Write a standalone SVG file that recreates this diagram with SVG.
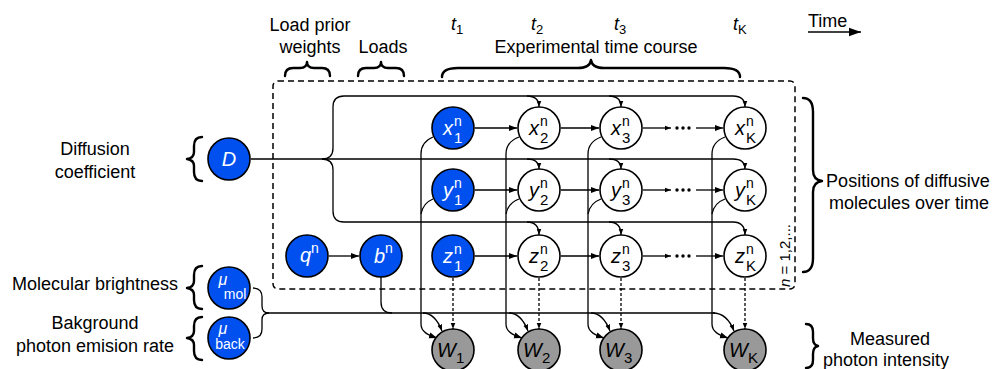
<svg xmlns="http://www.w3.org/2000/svg" width="993" height="369" viewBox="0 0 993 369">
  <defs>
    <marker id="ah" viewBox="0 0 10 10" refX="10" refY="5" markerWidth="8" markerHeight="8" orient="auto" markerUnits="userSpaceOnUse">
      <path d="M0,1.2 L10,5 L0,8.8 z" fill="#000"/>
    </marker>
    <marker id="ahs" viewBox="0 0 10 10" refX="10" refY="5" markerWidth="6.5" markerHeight="6.5" orient="auto" markerUnits="userSpaceOnUse">
      <path d="M0,1.2 L10,5 L0,8.8 z" fill="#000"/>
    </marker>
    <marker id="ahl" viewBox="0 0 10 10" refX="10" refY="5" markerWidth="12" markerHeight="12" orient="auto" markerUnits="userSpaceOnUse">
      <path d="M0,1.5 L10,5 L0,8.5 z" fill="#000"/>
    </marker>
    <style>
      text { font-family: "Liberation Sans", Arial, sans-serif; fill: #000; }
      .lbl { font-size: 18px; }
      .it { font-style: italic; }
      .nb circle { fill: #0050EF; stroke: #000; stroke-width: 1.6; }
      .nw circle { fill: #fff; stroke: #000; stroke-width: 1.6; }
      .ng circle { fill: #999; stroke: #000; stroke-width: 1.6; }
      .nb text { fill: #fff; }
      .main { font-size: 20px; font-style: italic; }
      .sup { font-size: 14px; }
      .sub { font-size: 15px; }
      .mu { font-size: 16px; font-style: italic; }
      .musub { font-size: 14px; }
      .edge { fill: none; stroke: #000; stroke-width: 1.3; }
      .arr { marker-end: url(#ah); }
      .arrs { marker-end: url(#ahs); }
      .dash { stroke-dasharray: 3 2; }
      .brace { fill: none; stroke: #000; stroke-width: 2.4; stroke-linecap: round; stroke-linejoin: round; }
      .plate { fill: none; stroke: #000; stroke-width: 1.5; stroke-dasharray: 6 4; }
    </style>
  </defs>

  <!-- plate over molecules n = 1,2,... -->
  <rect class="plate" x="273" y="81" width="522" height="208" rx="5"/>
  <text x="790" y="287" font-size="15" transform="rotate(-90 790 287)"><tspan class="it">n</tspan> = 1,2,...</text>

  <!-- headings and braces -->
  <g id="labels">
    <text class="lbl" x="310" y="31" text-anchor="middle">Load prior</text>
    <text class="lbl" x="310" y="53" text-anchor="middle">weights</text>
    <text class="lbl" x="383" y="53" text-anchor="middle">Loads</text>
    <text class="lbl" x="596" y="53" text-anchor="middle">Experimental time course</text>
    <text x="451" y="30" font-size="18" class="it">t<tspan font-size="13" font-style="normal" dy="4">1</tspan></text>
    <text x="531" y="30" font-size="18" class="it">t<tspan font-size="13" font-style="normal" dy="4">2</tspan></text>
    <text x="614" y="30" font-size="18" class="it">t<tspan font-size="13" font-style="normal" dy="4">3</tspan></text>
    <text x="733" y="30" font-size="18" class="it">t<tspan font-size="13" font-style="normal" dy="4">K</tspan></text>
    <text class="lbl" x="808" y="27">Time</text>
    <path d="M808,32 H861" fill="none" stroke="#000" stroke-width="1.5" marker-end="url(#ahl)"/>

    <text class="lbl" x="95" y="155" text-anchor="middle">Diffusion</text>
    <text class="lbl" x="95" y="178" text-anchor="middle">coefficient</text>
    <text class="lbl" x="95" y="290" text-anchor="middle">Molecular brightness</text>
    <text class="lbl" x="95" y="329" text-anchor="middle">Bakground</text>
    <text class="lbl" x="95" y="352" text-anchor="middle">photon emision rate</text>
    <text class="lbl" x="908" y="187" text-anchor="middle">Positions of diffusive</text>
    <text class="lbl" x="909" y="209" text-anchor="middle">molecules over time</text>
    <text class="lbl" x="890" y="345" text-anchor="middle">Measured</text>
    <text class="lbl" x="886" y="366" text-anchor="middle">photon intensity</text>

    <!-- braces -->
    <path class="brace" d="M285,76 Q285,68 293,68 H300 Q307,68 307,62 Q307,68 314,68 H322 Q330,68 330,76"/>
    <path class="brace" d="M358,76 Q358,68 366,68 H374 Q381,68 381,62 Q381,68 388,68 H396 Q404,68 404,76"/>
    <path class="brace" d="M442,77 Q442,68 458,68 H578 Q590,68 591,60 Q592,68 604,68 H724 Q740,68 740,77" stroke-width="3"/>
    <path class="brace" d="M202,137 Q194,137 194,146 V152 Q194,158 187,159 Q194,160 194,166 V172 Q194,181 202,181" stroke-width="2.8"/>
    <path class="brace" d="M202,266 Q194,266 194,275 V281 Q194,287 187,288 Q194,289 194,295 V300 Q194,309 202,309" stroke-width="2.8"/>
    <path class="brace" d="M202,317 Q194,317 194,326 V331 Q194,337 187,338 Q194,339 194,345 V351 Q194,360 202,360" stroke-width="2.8"/>
    <path class="brace" d="M803,98 Q813,98 813,112 V170 Q813,180 822,181 Q813,182 813,192 V258 Q813,272 803,272" stroke-width="3.2"/>
    <path class="brace" d="M806,324 Q813,324 813,332 V338 Q813,345 818,346 Q813,347 813,354 V360 Q813,368 806,368" stroke-width="2.8"/>
  </g>

  <!-- connectors -->
  <g id="connectors">
    <!-- diffusion coefficient fan-out -->
    <path class="edge arrs" d="M251,159 H733 Q745,159 745,169"/>
    <path class="edge arrs" d="M322,159 Q333,159 333,148 V107 Q333,96 344,96 H733 Q745,96 745,107"/>
    <path class="edge arrs" d="M322,159 Q333,159 333,170 V211 Q333,222 344,222 H733 Q745,222 745,235"/>
    <path class="edge arrs" d="M527,96 Q539,96 539,107"/>
    <path class="edge arrs" d="M609,96 Q621,96 621,107"/>
    <path class="edge arrs" d="M527,159 Q539,159 539,169"/>
    <path class="edge arrs" d="M609,159 Q621,159 621,169"/>
    <path class="edge arrs" d="M527,222 Q539,222 539,235"/>
    <path class="edge arrs" d="M609,222 Q621,222 621,235"/>

    <!-- transitions along time -->
    <path class="edge arr" d="M475,128 H517"/>
    <path class="edge arr" d="M561,128 H599"/>
    <path class="edge arrs" d="M643,128 H671"/>
    <path class="edge arr" d="M696,128 H723"/>
    <path class="edge arr" d="M475,190 H517"/>
    <path class="edge arr" d="M561,190 H599"/>
    <path class="edge arrs" d="M643,190 H671"/>
    <path class="edge arr" d="M696,190 H723"/>
    <path class="edge arr" d="M475,256 H517"/>
    <path class="edge arr" d="M561,256 H599"/>
    <path class="edge arrs" d="M643,256 H671"/>
    <path class="edge arr" d="M696,256 H723"/>
    <g fill="#000">
      <circle cx="677" cy="128" r="1.7"/><circle cx="683" cy="128" r="1.7"/><circle cx="689" cy="128" r="1.7"/>
      <circle cx="677" cy="190" r="1.7"/><circle cx="683" cy="190" r="1.7"/><circle cx="689" cy="190" r="1.7"/>
      <circle cx="677" cy="256" r="1.7"/><circle cx="683" cy="256" r="1.7"/><circle cx="689" cy="256" r="1.7"/>
    </g>

    <!-- x and y positions down to the photon counts -->
    <path class="edge arr" d="M433,137 Q421,142 421,154 V324 C421,332 428,335 437,338"/>
    <path class="edge" d="M433,199 Q423,203 421,214"/>
    <path class="edge arr" d="M519,137 Q506,142 506,154 V324 C506,332 513,335 522,338"/>
    <path class="edge" d="M519,199 Q508,203 506,214"/>
    <path class="edge arr" d="M601,137 Q588,142 588,154 V324 C588,332 595,335 604,338"/>
    <path class="edge" d="M601,199 Q590,203 588,214"/>
    <path class="edge arr" d="M725,137 Q712,142 712,154 V324 C712,332 719,335 728,338"/>
    <path class="edge" d="M725,199 Q714,203 712,214"/>

    <!-- z positions to photon counts -->
    <path class="edge dash arrs" d="M453,278 V329"/>
    <path class="edge dash arrs" d="M539,278 V329"/>
    <path class="edge dash arrs" d="M621,278 V329"/>
    <path class="edge dash arrs" d="M745,278 V329"/>

    <!-- brightness, background and b^n to photon counts -->
    <path class="edge" d="M253,288 Q262,288 262,297 V306 Q262,313 269,313"/>
    <path class="edge" d="M253,338 Q262,338 262,329 V320 Q262,313 269,313 H715"/>
    <path class="edge" d="M381,277 V302 Q381,313 392,313"/>
    <path class="edge arrs" d="M423,313 Q435,313 442,331"/>
    <path class="edge arrs" d="M509,313 Q521,313 528,331"/>
    <path class="edge arrs" d="M591,313 Q603,313 610,331"/>
    <path class="edge arrs" d="M713,313 Q727,313 734,331"/>

    <!-- q^n to b^n -->
    <path class="edge arr" d="M329,256 H359"/>
  </g>

  <!-- nodes -->
  <g id="node-D" class="nb"><circle cx="229" cy="159" r="21"/><text class="main" x="229" y="166" text-anchor="middle">D</text></g>
  <g id="node-mu-mol" class="nb"><circle cx="229" cy="288" r="21"/><text class="mu" x="223" y="285" text-anchor="middle">μ</text><text class="musub" x="235" y="299" text-anchor="middle">mol</text></g>
  <g id="node-mu-back" class="nb"><circle cx="229" cy="338" r="21"/><text class="mu" x="223" y="334" text-anchor="middle">μ</text><text class="musub" x="230" y="349" text-anchor="middle">back</text></g>
  <g id="node-q" class="nb"><circle cx="307" cy="256" r="21"/><text class="main" x="311" y="262" text-anchor="end">q</text><text class="sup" x="311" y="253">n</text></g>
  <g id="node-b" class="nb"><circle cx="381" cy="256" r="21"/><text class="main" x="385" y="263" text-anchor="end">b</text><text class="sup" x="385" y="253">n</text></g>

  <g id="node-x1" class="nb"><circle cx="453" cy="128" r="21"/><text class="main" x="453" y="135" text-anchor="end">x</text><text class="sup" x="454" y="126">n</text><text class="sub" x="454" y="143">1</text></g>
  <g id="node-x2" class="nw"><circle cx="539" cy="128" r="21"/><text class="main" x="539" y="135" text-anchor="end">x</text><text class="sup" x="540" y="126">n</text><text class="sub" x="540" y="143">2</text></g>
  <g id="node-x3" class="nw"><circle cx="621" cy="128" r="21"/><text class="main" x="621" y="135" text-anchor="end">x</text><text class="sup" x="622" y="126">n</text><text class="sub" x="622" y="143">3</text></g>
  <g id="node-xK" class="nw"><circle cx="745" cy="128" r="21"/><text class="main" x="745" y="135" text-anchor="end">x</text><text class="sup" x="746" y="126">n</text><text class="sub" x="746" y="143">K</text></g>

  <g id="node-y1" class="nb"><circle cx="453" cy="190" r="21"/><text class="main" x="453" y="197" text-anchor="end">y</text><text class="sup" x="454" y="188">n</text><text class="sub" x="454" y="205">1</text></g>
  <g id="node-y2" class="nw"><circle cx="539" cy="190" r="21"/><text class="main" x="539" y="197" text-anchor="end">y</text><text class="sup" x="540" y="188">n</text><text class="sub" x="540" y="205">2</text></g>
  <g id="node-y3" class="nw"><circle cx="621" cy="190" r="21"/><text class="main" x="621" y="197" text-anchor="end">y</text><text class="sup" x="622" y="188">n</text><text class="sub" x="622" y="205">3</text></g>
  <g id="node-yK" class="nw"><circle cx="745" cy="190" r="21"/><text class="main" x="745" y="197" text-anchor="end">y</text><text class="sup" x="746" y="188">n</text><text class="sub" x="746" y="205">K</text></g>

  <g id="node-z1" class="nb"><circle cx="453" cy="256" r="21"/><text class="main" x="453" y="263" text-anchor="end">z</text><text class="sup" x="454" y="254">n</text><text class="sub" x="454" y="271">1</text></g>
  <g id="node-z2" class="nw"><circle cx="539" cy="256" r="21"/><text class="main" x="539" y="263" text-anchor="end">z</text><text class="sup" x="540" y="254">n</text><text class="sub" x="540" y="271">2</text></g>
  <g id="node-z3" class="nw"><circle cx="621" cy="256" r="21"/><text class="main" x="621" y="263" text-anchor="end">z</text><text class="sup" x="622" y="254">n</text><text class="sub" x="622" y="271">3</text></g>
  <g id="node-zK" class="nw"><circle cx="745" cy="256" r="21"/><text class="main" x="745" y="263" text-anchor="end">z</text><text class="sup" x="746" y="254">n</text><text class="sub" x="746" y="271">K</text></g>

  <g id="node-W1" class="ng"><circle cx="453" cy="350" r="21"/><text class="main" x="456" y="357" text-anchor="end">W</text><text class="sub" x="456" y="363">1</text></g>
  <g id="node-W2" class="ng"><circle cx="539" cy="350" r="21"/><text class="main" x="542" y="357" text-anchor="end">W</text><text class="sub" x="542" y="363">2</text></g>
  <g id="node-W3" class="ng"><circle cx="621" cy="350" r="21"/><text class="main" x="624" y="357" text-anchor="end">W</text><text class="sub" x="624" y="363">3</text></g>
  <g id="node-WK" class="ng"><circle cx="745" cy="350" r="21"/><text class="main" x="748" y="357" text-anchor="end">W</text><text class="sub" x="748" y="363">K</text></g>
</svg>
